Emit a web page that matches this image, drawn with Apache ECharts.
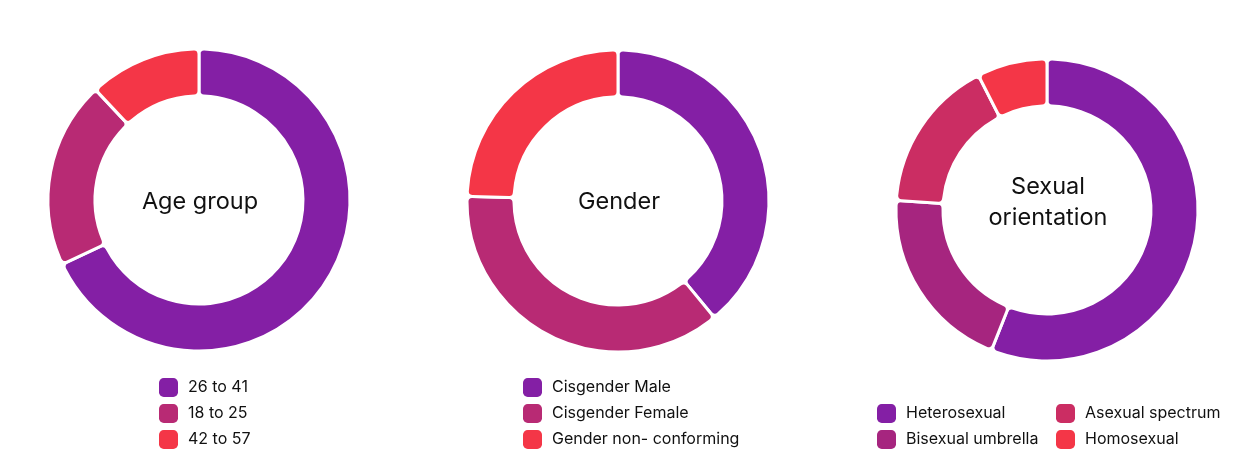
<!DOCTYPE html>
<html>
<head>
<meta charset="utf-8">
<script src="https://cdn.jsdelivr.net/npm/echarts@6/dist/echarts.min.js"></script>
<style>
html, body { margin: 0; padding: 0; background: #fff; }
#chart { width: 1258px; height: 451px; }
</style>
</head>
<body>
<div id="chart"></div>
<script>
// values (share of respondents, %)
const ageNames = ['26 to 41', '18 to 25', '42 to 57']
const ageValues = [68, 20, 12]
const genderNames = ['Cisgender Male', 'Cisgender Female', 'Gender non- conforming']
const genderValues = [39, 36.5, 24.5]
const orientNames = ['Heterosexual', 'Bisexual umbrella', 'Asexual spectrum', 'Homosexual']
const orientValues = [56, 20, 16.5, 7.5]

const colors3 = ['#841fa5', '#b82a74', '#f43647']
const colors4 = ['#841fa5', '#a6257f', '#cb2d63', '#f43647']

let myChart = echarts.init(document.getElementById('chart'))

function toData(names, values) {
    return names.map((n, i) => ({ name: n, value: values[i] }))
}

function donut(names, values, colors, cx, cy) {
    return {
        type: 'pie',
        center: [cx, cy],
        radius: [104, 151],
        startAngle: 90,
        color: colors,
        label: { show: false },
        labelLine: { show: false },
        emphasis: { disabled: true },
        itemStyle: { borderColor: '#fff', borderWidth: 3, borderRadius: 5 },
        data: toData(names, values)
    }
}

const legendBase = {
    orient: 'vertical',
    icon: 'roundRect',
    itemWidth: 19,
    itemHeight: 19,
    itemGap: 7,
    padding: 0,
    height: 100,
    selectedMode: false,
    itemStyle: { borderWidth: 0 },
    textStyle: { fontFamily: 'Inter', fontSize: 16, color: '#111', padding: [0, 0, 0, 5] }
}

function centerText(text, x, y) {
    return {
        type: 'text',
        x: x,
        y: y,
        style: {
            text: text,
            align: 'center',
            verticalAlign: 'middle',
            font: '23.5px Inter',
            lineHeight: 31,
            fill: '#111'
        }
    }
}

myChart.setOption({
    animation: false,
    graphic: [
        centerText('Age group', 200, 202),
        centerText('Gender', 619, 202),
        centerText('Sexual\norientation', 1048, 202)
    ],
    legend: [
        Object.assign({}, legendBase, { data: ageNames, left: 159, top: 378 }),
        Object.assign({}, legendBase, { data: genderNames, left: 523, top: 378 }),
        Object.assign({}, legendBase, { data: orientNames.slice(0, 2), left: 877, top: 404 }),
        Object.assign({}, legendBase, { data: orientNames.slice(2), left: 1056, top: 404 })
    ],
    series: [
        donut(ageNames, ageValues, colors3, 199, 200),
        donut(genderNames, genderValues, colors3, 618, 201),
        donut(orientNames, orientValues, colors4, 1047, 210)
    ]
})
</script>
</body>
</html>
